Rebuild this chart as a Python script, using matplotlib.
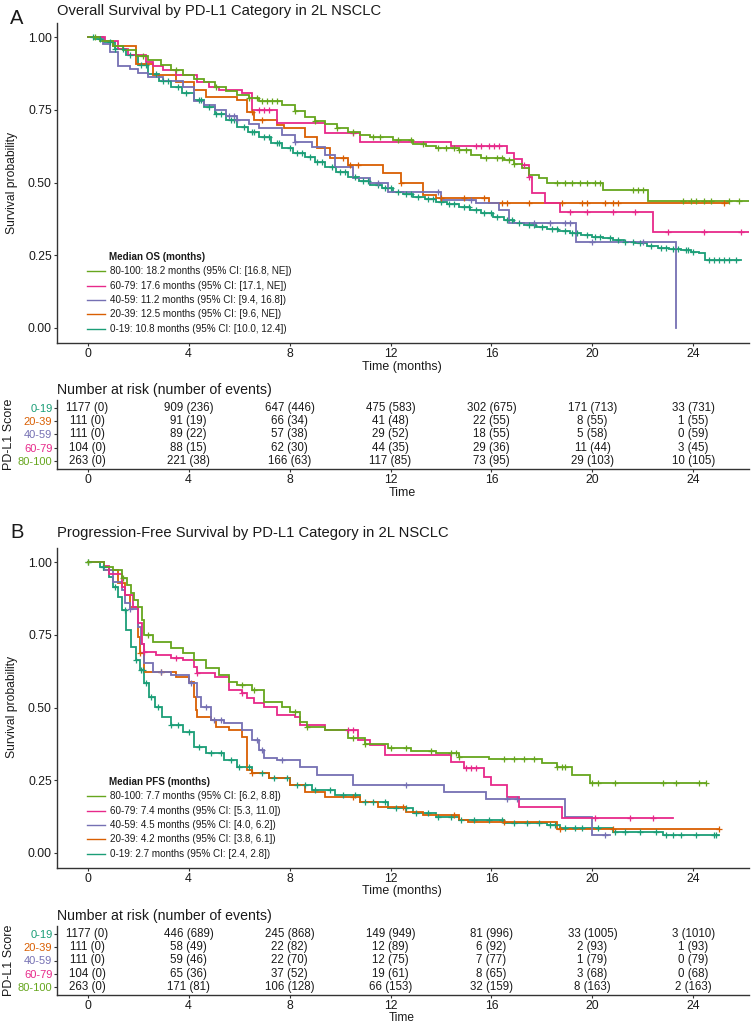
import numpy as np
import matplotlib
matplotlib.use("Agg")
import matplotlib.pyplot as plt

# ---------------- data ----------------
groups = ["0-19", "20-39", "40-59", "60-79", "80-100"]
colors = ["#1B9E77", "#D95F02", "#7570B3", "#E7298A", "#66A61E"]
risk_times = [0, 4, 8, 12, 16, 20, 24]

# Overall survival KM step curves (time in months, survival after step)
os_t_0_19 = [0, 0.3, 0.67, 1.1, 1.54, 2.0, 2.4, 2.85, 3.3, 3.75, 4.2, 4.6, 5.05, 5.5, 5.9, 6.35, 6.8, 7.25, 7.7,
             8.15, 8.6, 9.0, 9.4, 9.85, 10.3, 10.75, 11.2, 11.65, 12.1, 12.5, 12.9, 13.35, 13.8, 14.25, 14.7,
             15.15, 15.6, 16.05, 16.5, 16.9, 17.3, 17.75, 18.2, 18.65, 19.1, 19.55, 20.0, 20.4, 20.8, 21.25,
             21.7, 22.15, 22.6, 23.05, 23.5, 23.9, 24.2, 24.45, 25.9]
os_s_0_19 = [1.0, 0.992, 0.983, 0.96, 0.937, 0.905, 0.874, 0.85, 0.829, 0.806, 0.783, 0.76, 0.737, 0.714, 0.691,
             0.674, 0.657, 0.637, 0.617, 0.603, 0.589, 0.572, 0.554, 0.537, 0.52, 0.505, 0.491, 0.48, 0.469,
             0.46, 0.451, 0.442, 0.434, 0.425, 0.417, 0.405, 0.394, 0.383, 0.371, 0.362, 0.354, 0.346, 0.339,
             0.332, 0.326, 0.32, 0.314, 0.308, 0.303, 0.297, 0.291, 0.283, 0.274, 0.271, 0.269, 0.262, 0.257,
             0.234, 0.234]
os_t_20_39 = [0, 0.6, 1.0, 1.9, 2.6, 3.5, 4.2, 4.7, 5.9, 6.3, 6.6, 7.5, 7.8, 8.6, 9.1, 9.6, 10.3, 11.7, 12.4,
              13.3, 13.8, 15.9, 25.4]
os_s_20_39 = [1.0, 0.985, 0.97, 0.909, 0.869, 0.846, 0.817, 0.794, 0.783, 0.743, 0.714, 0.697, 0.686, 0.657,
              0.617, 0.583, 0.56, 0.531, 0.497, 0.457, 0.446, 0.429, 0.429]
os_t_40_59 = [0, 0.6, 0.9, 1.2, 1.7, 2.0, 2.4, 3.0, 3.8, 4.2, 4.6, 5.05, 5.5, 5.9, 6.4, 6.8, 7.7, 8.2, 8.9, 9.4,
              9.8, 10.5, 11.2, 11.9, 14.0, 15.4, 16.3, 16.7, 19.35, 23.3]
os_s_40_59 = [1.0, 0.977, 0.95, 0.90, 0.89, 0.875, 0.863, 0.85, 0.83, 0.78, 0.765, 0.749, 0.73, 0.714, 0.70,
              0.686, 0.663, 0.64, 0.623, 0.594, 0.554, 0.514, 0.497, 0.469, 0.44, 0.429, 0.406, 0.36, 0.297, 0.0]
os_t_60_79 = [0, 0.7, 1.2, 1.6, 2.3, 2.6, 3.0, 3.5, 4.35, 4.8, 5.2, 6.1, 6.5, 7.5, 9.4, 10.8, 14.4, 16.6, 16.9,
              17.2, 17.5, 17.6, 18.1, 18.7, 22.4, 26.2]
os_s_60_79 = [1.0, 0.985, 0.96, 0.94, 0.914, 0.90, 0.886, 0.869, 0.846, 0.83, 0.817, 0.806, 0.749, 0.703, 0.669,
              0.64, 0.625, 0.60, 0.58, 0.56, 0.52, 0.463, 0.429, 0.397, 0.33, 0.33]
os_t_80_100 = [0, 0.5, 1.0, 1.4, 1.9, 2.4, 2.9, 3.3, 3.8, 4.2, 4.6, 5.05, 5.5, 5.9, 6.4, 6.8, 7.7, 8.2, 8.6, 9.0,
               9.4, 9.9, 10.3, 10.8, 11.2, 12.1, 12.9, 13.4, 13.8, 14.7, 15.2, 15.6, 16.5, 16.9, 17.2, 17.5,
               17.9, 18.2, 20.4, 22.2, 26.2]
os_s_80_100 = [1.0, 0.985, 0.97, 0.955, 0.935, 0.92, 0.905, 0.886, 0.87, 0.857, 0.845, 0.83, 0.815, 0.80, 0.79,
               0.78, 0.766, 0.745, 0.726, 0.712, 0.70, 0.686, 0.674, 0.665, 0.657, 0.646, 0.634, 0.625, 0.617,
               0.611, 0.595, 0.583, 0.577, 0.565, 0.549, 0.526, 0.514, 0.497, 0.474, 0.437, 0.437]

# OS censoring times
os_c_0_19 = [0.2, 0.5, 0.9, 1.1, 1.4, 1.7, 2.1, 2.3, 2.7, 3.0, 3.2, 3.6, 3.9, 4.4, 4.5, 4.8, 5.1, 5.3, 5.7, 5.8,
             6.2, 6.5, 6.6, 7.0, 7.2, 7.5, 7.6, 8.0, 8.3, 8.5, 8.8, 9.1, 9.3, 9.7, 10.0, 10.2, 10.6, 10.9, 11.1,
             11.5, 11.8, 12.0, 12.3, 12.6, 12.8, 13.1, 13.5, 13.7, 14.0, 14.3, 14.5, 14.9, 15.1, 15.4, 15.7,
             16.0, 16.2, 16.6, 16.8, 17.1, 17.5, 17.7, 18.0, 18.4, 18.6, 18.9, 19.2, 19.4, 19.8, 20.1, 20.3,
             20.7, 21.0, 21.3, 21.6, 21.9, 22.3, 22.7, 22.9, 23.2, 23.4, 23.7, 23.8, 24.0, 24.6, 24.8, 25.0,
             25.2, 25.4, 25.7]
os_c_20_39 = [6.5, 6.9, 10.1, 10.4, 10.7, 12.4, 14.0, 14.9, 15.7, 16.4, 16.6, 17.5, 18.8, 19.6, 19.8, 20.5,
              20.8, 21.0, 25.2]
os_c_40_59 = [5.6, 5.8, 5.9, 8.2, 11.5, 13.9, 15.2, 17.7, 18.3, 18.9, 19.1, 20.0, 22.0]
os_c_60_79 = [6.8, 7.0, 7.2, 10.5, 15.4, 15.6, 15.9, 16.1, 16.3, 17.3, 17.5, 19.1, 19.8, 20.8, 21.7, 23.0,
              24.4, 25.9]
os_c_80_100 = [0.3, 2.2, 3.5, 5.1, 6.4, 6.7, 6.9, 7.1, 7.3, 7.5, 8.2, 9.0, 9.9, 10.5, 11.3, 11.6, 12.3, 12.8,
               13.3, 13.9, 14.2, 14.5, 14.7, 15.0, 15.8, 16.2, 16.4, 16.7, 16.9, 18.6, 18.9, 19.2, 19.5, 19.8,
               20.1, 20.3, 21.6, 21.8, 22.0, 23.6, 23.9, 24.1, 24.4, 24.7, 25.4, 25.8]

# Progression-free survival KM step curves
pfs_t_0_19 = [0, 0.5, 0.84, 1.0, 1.2, 1.37, 1.54, 1.72, 1.9, 2.07, 2.25, 2.42, 2.68, 2.95, 3.3, 3.8, 4.2, 4.7,
              5.4, 5.9, 6.5, 7.2, 8.0, 8.9, 9.8, 10.8, 11.9, 12.9, 13.8, 14.7, 16.5, 18.2, 18.7, 20.8, 22.8, 25.0]
pfs_s_0_19 = [1.0, 0.984, 0.95, 0.915, 0.88, 0.835, 0.766, 0.709, 0.663, 0.629, 0.583, 0.537, 0.503, 0.468,
              0.44, 0.417, 0.365, 0.342, 0.32, 0.297, 0.274, 0.257, 0.234, 0.216, 0.199, 0.176, 0.153, 0.136,
              0.125, 0.113, 0.102, 0.096, 0.085, 0.073, 0.062, 0.062]
pfs_t_20_39 = [0, 0.67, 1.2, 1.5, 1.7, 2.0, 2.07, 2.25, 3.5, 4.0, 4.2, 4.28, 4.35, 4.9, 5.1, 5.6, 6.1, 6.3, 6.5,
               7.2, 8.0, 8.6, 9.4, 10.8, 11.5, 12.6, 13.3, 14.7, 15.05, 18.6, 25.0]
pfs_s_20_39 = [1.0, 0.972, 0.927, 0.887, 0.846, 0.743, 0.686, 0.623, 0.606, 0.589, 0.537, 0.491, 0.468, 0.457,
               0.434, 0.423, 0.40, 0.285, 0.274, 0.257, 0.234, 0.211, 0.194, 0.176, 0.159, 0.142, 0.131, 0.113,
               0.108, 0.081, 0.081]
pfs_t_40_59 = [0, 0.67, 1.0, 1.37, 1.5, 1.7, 2.0, 2.1, 2.25, 2.6, 3.3, 4.0, 4.35, 4.5, 4.9, 5.4, 6.1, 6.5, 6.8,
               7.0, 7.5, 8.4, 9.1, 10.5, 14.1, 15.8, 18.9, 20.0, 20.7]
pfs_s_40_59 = [1.0, 0.972, 0.932, 0.904, 0.858, 0.84, 0.778, 0.72, 0.652, 0.623, 0.612, 0.583, 0.537, 0.503,
               0.457, 0.446, 0.423, 0.388, 0.354, 0.325, 0.32, 0.297, 0.268, 0.234, 0.21, 0.184, 0.125, 0.062,
               0.062]
pfs_t_60_79 = [0, 0.67, 0.84, 1.37, 1.5, 1.8, 2.0, 2.16, 2.25, 2.7, 3.3, 3.8, 4.2, 4.35, 5.05, 5.6, 6.1, 6.3,
               6.6, 7.0, 7.5, 8.2, 8.4, 9.4, 10.7, 11.2, 11.8, 14.4, 14.9, 15.7, 16.0, 16.6, 17.1, 18.8, 23.2]
pfs_s_60_79 = [1.0, 0.985, 0.96, 0.915, 0.887, 0.846, 0.789, 0.72, 0.692, 0.68, 0.669, 0.663, 0.64, 0.617,
               0.606, 0.56, 0.549, 0.531, 0.514, 0.503, 0.474, 0.468, 0.44, 0.423, 0.388, 0.371, 0.337, 0.314,
               0.291, 0.262, 0.234, 0.194, 0.159, 0.119, 0.119]
pfs_t_80_100 = [0, 0.67, 1.0, 1.37, 1.55, 1.72, 1.85, 2.0, 2.16, 2.25, 2.6, 3.3, 3.8, 4.2, 4.7, 5.2, 5.6, 5.9,
                6.5, 7.0, 7.7, 8.0, 8.4, 8.7, 9.4, 10.3, 11.0, 11.9, 12.8, 13.8, 14.7, 15.9, 18.0, 18.6, 19.2,
                19.9, 24.5]
pfs_s_80_100 = [1.0, 0.984, 0.973, 0.944, 0.92, 0.893, 0.87, 0.846, 0.80, 0.749, 0.726, 0.703, 0.686, 0.663,
                0.635, 0.612, 0.589, 0.577, 0.56, 0.52, 0.503, 0.486, 0.451, 0.434, 0.423, 0.394, 0.375, 0.36,
                0.35, 0.342, 0.329, 0.322, 0.308, 0.294, 0.268, 0.239, 0.239]

# PFS censoring times
pfs_c_0_19 = [0.0, 0.6, 1.1, 1.5, 1.9, 2.1, 2.2, 2.3, 2.5, 2.8, 3.3, 3.6, 4.0, 4.4, 4.9, 5.3, 5.7, 6.0, 6.4,
              6.9, 7.4, 7.9, 8.3, 8.6, 9.0, 9.6, 10.1, 10.6, 11.0, 11.3, 11.8, 12.2, 12.6, 13.0, 13.5, 13.9,
              14.4, 14.8, 15.3, 15.9, 16.4, 16.9, 17.4, 17.9, 18.3, 18.5, 18.9, 19.3, 19.6, 20.2, 20.9, 21.3,
              21.9, 22.5, 22.9, 23.2, 23.5, 24.1, 24.8, 24.9]
pfs_c_20_39 = [2.07, 2.9, 6.5, 10.5, 12.5, 14.5, 16.5, 18.7, 20.8, 25.0]
pfs_c_40_59 = [1.7, 2.9, 4.1, 4.7, 5.0, 5.3, 6.7, 6.9, 7.7, 12.6, 16.6, 17.0, 20.5]
pfs_c_60_79 = [2.25, 3.5, 4.35, 6.1, 10.3, 10.5, 15.0, 15.2, 15.4, 20.1, 21.5, 22.4]
pfs_c_80_100 = [0.0, 1.4, 2.4, 6.1, 6.6, 8.2, 8.7, 10.5, 11.0, 12.0, 12.6, 13.6, 14.4, 14.6, 14.7, 16.5, 16.9,
                17.3, 17.7, 18.6, 18.8, 18.9, 20.0, 20.2, 20.9, 22.8, 23.3, 24.2, 24.5]

# number at risk / number of events
os_risk = [[1177, 909, 647, 475, 302, 171, 33], [111, 91, 66, 41, 22, 8, 1], [111, 89, 57, 29, 18, 5, 0],
           [104, 88, 62, 44, 29, 11, 3], [263, 221, 166, 117, 73, 29, 10]]
os_events = [[0, 236, 446, 583, 675, 713, 731], [0, 19, 34, 48, 55, 55, 55], [0, 22, 38, 52, 55, 58, 59],
             [0, 15, 30, 35, 36, 44, 45], [0, 38, 63, 85, 95, 103, 105]]
pfs_risk = [[1177, 446, 245, 149, 81, 33, 3], [111, 58, 22, 12, 6, 2, 1], [111, 59, 22, 12, 7, 1, 0],
            [104, 65, 37, 19, 8, 3, 0], [263, 171, 106, 66, 32, 8, 2]]
pfs_events = [[0, 689, 868, 949, 996, 1005, 1010], [0, 49, 82, 89, 92, 93, 93], [0, 46, 70, 75, 77, 79, 79],
              [0, 36, 52, 61, 65, 68, 68], [0, 81, 128, 153, 159, 163, 163]]

os_legend = ["80-100: 18.2 months (95% CI: [16.8, NE])", "60-79: 17.6 months (95% CI: [17.1, NE])",
             "40-59: 11.2 months (95% CI: [9.4, 16.8])", "20-39: 12.5 months (95% CI: [9.6, NE])",
             "0-19: 10.8 months (95% CI: [10.0, 12.4])"]
pfs_legend = ["80-100: 7.7 months (95% CI: [6.2, 8.8])", "60-79: 7.4 months (95% CI: [5.3, 11.0])",
              "40-59: 4.5 months (95% CI: [4.0, 6.2])", "20-39: 4.2 months (95% CI: [3.8, 6.1])",
              "0-19: 2.7 months (95% CI: [2.4, 2.8])"]

os_curves = [(os_t_0_19, os_s_0_19, os_c_0_19), (os_t_20_39, os_s_20_39, os_c_20_39),
             (os_t_40_59, os_s_40_59, os_c_40_59), (os_t_60_79, os_s_60_79, os_c_60_79),
             (os_t_80_100, os_s_80_100, os_c_80_100)]
pfs_curves = [(pfs_t_0_19, pfs_s_0_19, pfs_c_0_19), (pfs_t_20_39, pfs_s_20_39, pfs_c_20_39),
              (pfs_t_40_59, pfs_s_40_59, pfs_c_40_59), (pfs_t_60_79, pfs_s_60_79, pfs_c_60_79),
              (pfs_t_80_100, pfs_s_80_100, pfs_c_80_100)]

# ---------------- style ----------------
FONT = ["Liberation Sans Narrow", "Liberation Sans", "DejaVu Sans"]
plt.rcParams["font.family"] = FONT
TXT = "#1a1a1a"
SPINE = "#333333"

W, H = 755, 1024
fig = plt.figure(figsize=(W / 100, H / 100), dpi=100)


def ax_px(left, top, right, bottom):
    return fig.add_axes([left / W, 1 - bottom / H, (right - left) / W, (bottom - top) / H])


XLIM = (-1.21, 26.2)


def style_axes(ax, pad=1.2):
    for s in ["top", "right"]:
        ax.spines[s].set_visible(False)
    for s in ["left", "bottom"]:
        ax.spines[s].set_color(SPINE)
        ax.spines[s].set_linewidth(1.0)
    ax.tick_params(axis="both", length=2.5, width=0.8, color=SPINE, labelsize=8.8, labelcolor=TXT, pad=pad)
    ax.set_xlim(*XLIM)
    ax.set_xticks(risk_times)


def km_panel(ax, curves, legend_title, legend_labels):
    style_axes(ax)
    for (t, s, c), col in zip(curves, colors):
        t = np.asarray(t, float)
        s = np.asarray(s, float)
        ax.step(t, s, where="post", color=col, lw=1.3, zorder=2, solid_joinstyle="miter")
        c = np.asarray(c, float)
        idx = np.clip(np.searchsorted(t, c, side="right") - 1, 0, len(s) - 1)
        ax.plot(c, s[idx], ls="none", marker="+", ms=4.5, mew=0.9, color=col, zorder=3)
    ax.set_ylim(-0.05, 1.05)
    ax.set_yticks([0, 0.25, 0.5, 0.75, 1.0])
    ax.set_yticklabels(["0.00", "0.25", "0.50", "0.75", "1.00"])
    # legend (drawn manually, survminer style)
    ax.text(0.075, 0.268, legend_title, transform=ax.transAxes, fontsize=7.1, fontweight="bold",
            color=TXT, va="center", ha="left")
    ypos = [0.223, 0.178, 0.133, 0.088, 0.043]
    order = [4, 3, 2, 1, 0]
    for yy, gi, lab in zip(ypos, order, legend_labels):
        ax.plot([0.0434, 0.0694], [yy, yy], transform=ax.transAxes, color=colors[gi], lw=1.0, clip_on=False)
        ax.text(0.076, yy, lab, transform=ax.transAxes, fontsize=7.1, color=TXT, va="center", ha="left")


def risk_panel(ax, risk, events):
    style_axes(ax, pad=0.8)
    ax.set_ylim(0.4, 5.6)
    ypos = [5, 4, 3, 2, 1]
    for gi, yy in enumerate(ypos):
        for tt, n, e in zip(risk_times, risk[gi], events[gi]):
            ax.text(tt, yy, f"{n} ({e})", ha="center", va="center", fontsize=8.3, color=TXT)
    ax.set_yticks(ypos)
    ax.set_yticklabels(groups, fontsize=8)
    for lab, col in zip(ax.get_yticklabels(), colors):
        lab.set_color(col)


def px_text(x, y, s, **kw):
    fig.text(x / W, 1 - y / H, s, **kw)


# ---- Panel A ----
axA = ax_px(57, 22.5, 749, 342.5)
km_panel(axA, os_curves, "Median OS (months)", os_legend)
tabA = ax_px(57, 400, 749, 469)
risk_panel(tabA, os_risk, os_events)

# ---- Panel B ----
axB = ax_px(57, 547.5, 749, 867.5)
km_panel(axB, pfs_curves, "Median PFS (months)", pfs_legend)
tabB = ax_px(57, 926, 749, 995)
risk_panel(tabB, pfs_risk, pfs_events)

# ---- texts ----
LET = ["Liberation Sans", "DejaVu Sans"]
px_text(10, 18.5, "A", fontsize=14.5, color=TXT, va="center", ha="left", family=LET)
px_text(57, 10.5, "Overall Survival by PD-L1 Category in 2L NSCLC", fontsize=10.6, color=TXT,
        va="center", ha="left")
px_text(12, 183, "Survival probability", fontsize=8.7, color=TXT, rotation=90, va="center", ha="center")
px_text(402, 367, "Time (months)", fontsize=8.9, color=TXT, va="center", ha="center")
px_text(57, 390, "Number at risk (number of events)", fontsize=10.2, color=TXT, va="center", ha="left")
px_text(9, 434, "PD-L1 Score", fontsize=9, color=TXT, rotation=90, va="center", ha="center")
px_text(402, 493, "Time", fontsize=8.9, color=TXT, va="center", ha="center")

px_text(10, 532, "B", fontsize=14.5, color=TXT, va="center", ha="left", family=LET)
px_text(57, 533, "Progression-Free Survival by PD-L1 Category in 2L NSCLC", fontsize=10.6, color=TXT,
        va="center", ha="left")
px_text(12, 707, "Survival probability", fontsize=8.7, color=TXT, rotation=90, va="center", ha="center")
px_text(402, 891, "Time (months)", fontsize=8.9, color=TXT, va="center", ha="center")
px_text(57, 916, "Number at risk (number of events)", fontsize=10.2, color=TXT, va="center", ha="left")
px_text(9, 960, "PD-L1 Score", fontsize=9, color=TXT, rotation=90, va="center", ha="center")
px_text(402, 1018, "Time", fontsize=8.6, color=TXT, va="center", ha="center")

fig.savefig("out.png", dpi=100, facecolor="white")
